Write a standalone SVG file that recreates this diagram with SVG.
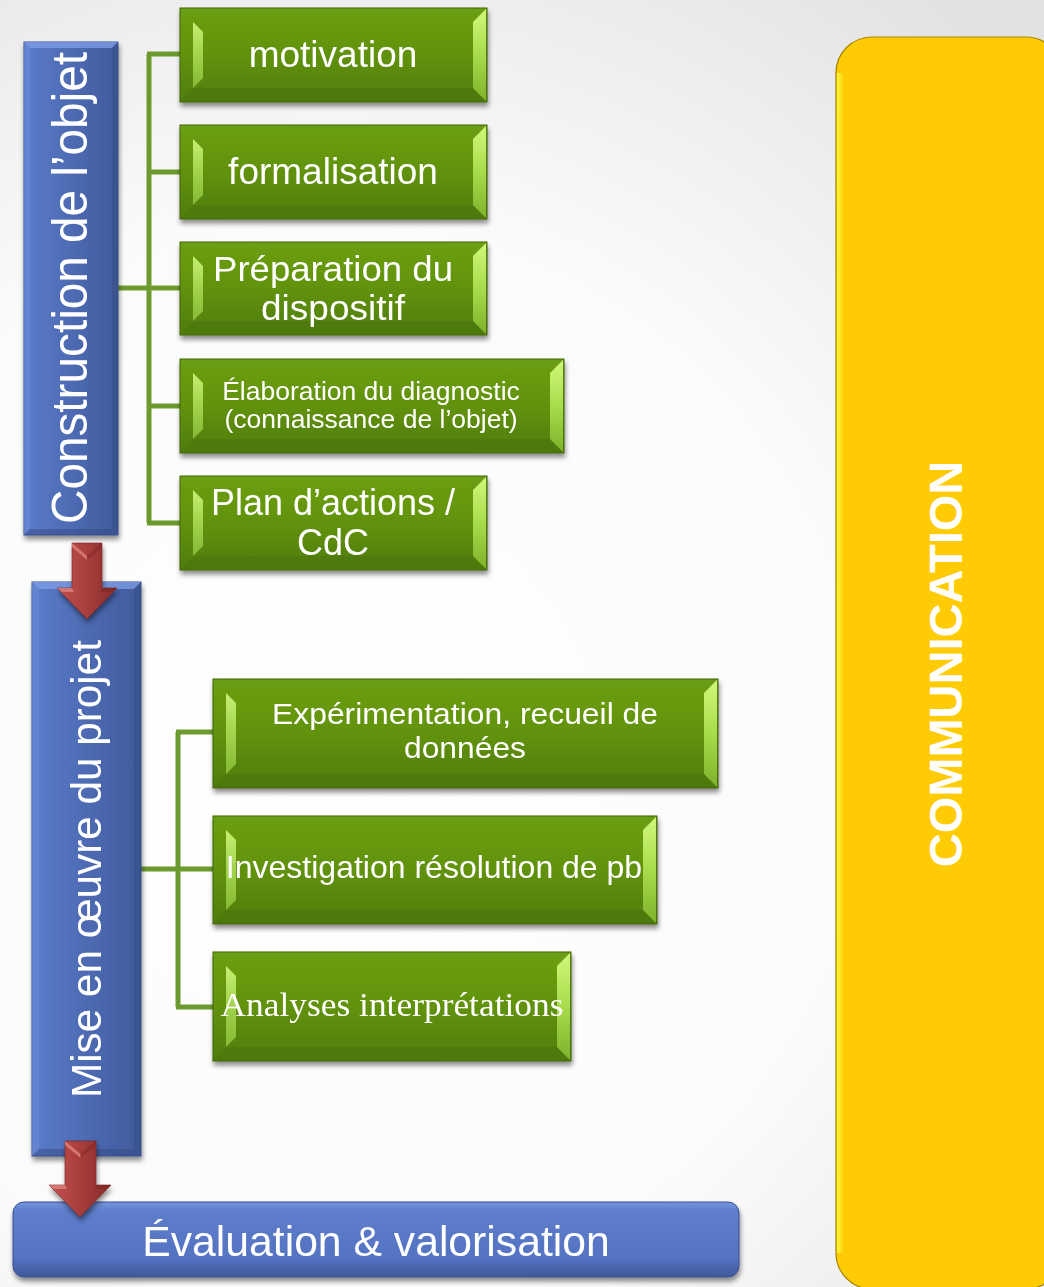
<svg xmlns="http://www.w3.org/2000/svg" width="1044" height="1287" viewBox="0 0 1044 1287">
  <defs>
    <radialGradient id="bg" cx="330" cy="760" r="980" gradientUnits="userSpaceOnUse">
      <stop offset="0" stop-color="#ffffff"/>
      <stop offset="0.55" stop-color="#fbfbfb"/>
      <stop offset="1" stop-color="#e2e2e2"/>
    </radialGradient>
    <linearGradient id="gMain" x1="0" y1="0" x2="0" y2="1">
      <stop offset="0" stop-color="#6c9e12"/>
      <stop offset="0.5" stop-color="#62920f"/>
      <stop offset="1" stop-color="#4f7c0c"/>
    </linearGradient>
    <linearGradient id="gRight" x1="0" y1="0" x2="0" y2="1">
      <stop offset="0" stop-color="#d2f77a"/>
      <stop offset="0.5" stop-color="#a8dc4c"/>
      <stop offset="1" stop-color="#7fb12a"/>
    </linearGradient>
    <linearGradient id="gLeft" x1="0" y1="0" x2="0" y2="1">
      <stop offset="0" stop-color="#c7ef72"/>
      <stop offset="0.5" stop-color="#a2d34c"/>
      <stop offset="1" stop-color="#86b833"/>
    </linearGradient>
    <linearGradient id="bMain" x1="0" y1="0" x2="1" y2="0">
      <stop offset="0" stop-color="#5a7cca"/>
      <stop offset="1" stop-color="#415a9c"/>
    </linearGradient>
    <linearGradient id="bBottom" x1="0" y1="0" x2="0" y2="1">
      <stop offset="0" stop-color="#7595df"/>
      <stop offset="0.12" stop-color="#5e7ecb"/>
      <stop offset="0.75" stop-color="#5473c2"/>
      <stop offset="1" stop-color="#3f5799"/>
    </linearGradient>
    <linearGradient id="rArrow" x1="0" y1="0" x2="1" y2="0">
      <stop offset="0" stop-color="#c2524f"/>
      <stop offset="0.5" stop-color="#a83e3c"/>
      <stop offset="1" stop-color="#862b29"/>
    </linearGradient>
    <linearGradient id="yLeft" x1="0" y1="0" x2="1" y2="0">
      <stop offset="0" stop-color="#ffff40"/>
      <stop offset="1" stop-color="#ffcb05"/>
    </linearGradient>
    <filter id="sh" x="-10%" y="-10%" width="120%" height="130%">
      <feGaussianBlur in="SourceAlpha" stdDeviation="2.5"/>
      <feOffset dx="1" dy="4" result="b"/>
      <feComponentTransfer><feFuncA type="linear" slope="0.45"/></feComponentTransfer>
      <feMerge><feMergeNode/><feMergeNode in="SourceGraphic"/></feMerge>
    </filter>
    <style>
      .gbox { fill: url(#gMain); stroke: #3f650a; stroke-width: 1; }
      .gright { fill: url(#gRight); }
      .gleft { fill: url(#gLeft); }
      .gbot { fill: #4a740b; opacity: 0.55; }
      .bbox { fill: url(#bMain); stroke: #3a5190; stroke-width: 1; }
      .btop { fill: #7c9ce4; opacity: 0.8; }
      .bleft { fill: #6b8bd6; opacity: 0.6; }
      .bright { fill: #34497f; opacity: 0.45; }
      .bbot { fill: #33487e; opacity: 0.45; }
      .t { font-family: "Liberation Sans", Arial, sans-serif; fill: #ffffff; text-anchor: middle; }
      .ts { font-family: "Liberation Serif", "Times New Roman", serif; fill: #ffffff; text-anchor: middle; }
      .conn { fill: none; stroke: #6c9a2e; stroke-width: 5; }
      .arrow { fill: url(#rArrow); stroke: #7a2422; stroke-width: 0.6; }
      .ahl { fill: #e08682; opacity: 0.75; }
      .adk { fill: #6e1f1d; opacity: 0.35; }
    </style>
  </defs>

  <rect x="0" y="0" width="1044" height="1287" fill="url(#bg)"/>

  <!-- COMMUNICATION -->
  <g id="communication">
    <rect x="836" y="37" width="226" height="1252" rx="36" ry="36" fill="#ffcb05" stroke="#a88500" stroke-width="1.2"/>
    <path d="M837,73 V1253 H844 V73 Z" fill="url(#yLeft)" opacity="0.9"/>
    <text class="t" transform="translate(945,664) rotate(-90)" y="17" font-size="47" font-weight="bold">COMMUNICATION</text>
  </g>

  <!-- Connectors -->
  <g id="connectors">
    <path class="conn" d="M118,288 H149 M149,54 V523 M147,54 H180 M149,172 H180 M149,288 H180 M149,406 H180 M147,523 H180"/>
    <path class="conn" d="M141,869 H178 M178,732 V1007 M176,732 H213 M178,869 H213 M176,1007 H213"/>
  </g>

  <!-- Blue box 1 -->
  <g id="construction" filter="url(#sh)">
    <rect class="bbox" x="24" y="42" width="94" height="493"/>
    <polygon class="btop" points="24,42 118,42 112,48 30,48"/>
    <polygon class="bleft" points="24,42 30,48 30,529 24,535"/>
    <polygon class="bright" points="118,42 118,535 112,529 112,48"/>
    <polygon class="bbot" points="24,535 30,529 112,529 118,535"/>
    <text class="t" transform="translate(87,288) rotate(-90)" font-size="50" textLength="472" lengthAdjust="spacingAndGlyphs">Construction de l’objet</text>
  </g>

  <!-- Green boxes, tree 1 -->
  <g id="motivation" filter="url(#sh)">
    <rect class="gbox" x="180" y="8" width="307" height="94"/>
    <polygon class="gbot" points="180,102 193,88 473,88 487,102"/>
    <polygon class="gleft" points="193,22 203,32 203,78 193,88"/>
    <polygon class="gright" points="486,9 486,101 473,88 473,22"/>
    <text class="t" x="333" y="67" font-size="37">motivation</text>
  </g>
  <g id="formalisation" filter="url(#sh)">
    <rect class="gbox" x="180" y="125" width="307" height="94"/>
    <polygon class="gbot" points="180,219 193,205 473,205 487,219"/>
    <polygon class="gleft" points="193,139 203,149 203,195 193,205"/>
    <polygon class="gright" points="486,126 486,218 473,205 473,139"/>
    <text class="t" x="333" y="184" font-size="37">formalisation</text>
  </g>
  <g id="preparation" filter="url(#sh)">
    <rect class="gbox" x="180" y="242" width="307" height="93"/>
    <polygon class="gbot" points="180,335 193,321 473,321 487,335"/>
    <polygon class="gleft" points="193,256 203,266 203,311 193,321"/>
    <polygon class="gright" points="486,243 486,334 473,321 473,256"/>
    <text class="t" x="333" y="281" font-size="34.5" textLength="240" lengthAdjust="spacingAndGlyphs">Préparation du</text>
    <text class="t" x="333" y="320" font-size="34.5" textLength="144" lengthAdjust="spacingAndGlyphs">dispositif</text>
  </g>
  <g id="elaboration" filter="url(#sh)">
    <rect class="gbox" x="180" y="359" width="384" height="94"/>
    <polygon class="gbot" points="180,453 193,439 550,439 564,453"/>
    <polygon class="gleft" points="193,373 203,383 203,429 193,439"/>
    <polygon class="gright" points="563,360 563,452 550,439 550,373"/>
    <text class="t" x="371" y="400" font-size="26.5">Élaboration du diagnostic</text>
    <text class="t" x="371" y="428" font-size="26.5">(connaissance de l’objet)</text>
  </g>
  <g id="plan" filter="url(#sh)">
    <rect class="gbox" x="180" y="476" width="307" height="94"/>
    <polygon class="gbot" points="180,570 193,556 473,556 487,570"/>
    <polygon class="gleft" points="193,490 203,500 203,546 193,556"/>
    <polygon class="gright" points="486,477 486,569 473,556 473,490"/>
    <text class="t" x="333" y="515" font-size="36">Plan d’actions /</text>
    <text class="t" x="333" y="555" font-size="36">CdC</text>
  </g>

  <!-- Blue box 2 -->
  <g id="mise-en-oeuvre" filter="url(#sh)">
    <rect class="bbox" x="32" y="582" width="109" height="574"/>
    <polygon class="btop" points="32,582 141,582 134,589 39,589"/>
    <polygon class="bleft" points="32,582 39,589 39,1149 32,1156"/>
    <polygon class="bright" points="141,582 141,1156 134,1149 134,589"/>
    <polygon class="bbot" points="32,1156 39,1149 134,1149 141,1156"/>
    <text class="t" transform="translate(101,869) rotate(-90)" font-size="43" textLength="458" lengthAdjust="spacingAndGlyphs">Mise en œuvre du projet</text>
  </g>

  <!-- Green boxes, tree 2 -->
  <g id="experimentation" filter="url(#sh)">
    <rect class="gbox" x="213" y="679" width="505" height="109"/>
    <polygon class="gbot" points="213,788 226,774 704,774 718,788"/>
    <polygon class="gleft" points="226,693 236,703 236,764 226,774"/>
    <polygon class="gright" points="717,680 717,787 704,774 704,693"/>
    <text class="t" x="465" y="724" font-size="30" textLength="386" lengthAdjust="spacingAndGlyphs">Expérimentation, recueil de</text>
    <text class="t" x="465" y="758" font-size="30" textLength="122" lengthAdjust="spacingAndGlyphs">données</text>
  </g>
  <g id="investigation" filter="url(#sh)">
    <rect class="gbox" x="213" y="816" width="444" height="108"/>
    <polygon class="gbot" points="213,924 226,910 643,910 657,924"/>
    <polygon class="gleft" points="226,830 236,840 236,900 226,910"/>
    <polygon class="gright" points="656,817 656,923 643,910 643,830"/>
    <text class="t" x="434" y="878" font-size="32">Investigation résolution de pb</text>
  </g>
  <g id="analyses" filter="url(#sh)">
    <rect class="gbox" x="213" y="952" width="358" height="109"/>
    <polygon class="gbot" points="213,1061 226,1047 557,1047 571,1061"/>
    <polygon class="gleft" points="226,966 236,976 236,1037 226,1047"/>
    <polygon class="gright" points="570,953 570,1060 557,1047 557,966"/>
    <text class="ts" x="392" y="1016" font-size="33" textLength="343" lengthAdjust="spacingAndGlyphs">Analyses interprétations</text>
  </g>

  <!-- Bottom blue box -->
  <g id="evaluation" filter="url(#sh)">
    <rect x="13" y="1202" width="726" height="75" rx="11" ry="11" fill="url(#bBottom)" stroke="#3a5190" stroke-width="1"/>
    <text class="t" x="376" y="1256" font-size="42.7">Évaluation &amp; valorisation</text>
  </g>

  <!-- Arrows -->
  <g id="arrows" filter="url(#sh)">
    <polygon class="arrow" points="72,543 102,543 102,588 117,588 87,619 57,588 72,588"/>
    <polygon class="ahl" points="72,543 87,556 87,560 72,547"/>
    <polygon class="adk" points="102,543 87,556 87,560 102,547"/>
    <polygon class="ahl" points="57,588 72,588 74,592 62,592"/>
    <polygon class="adk" points="117,588 102,588 100,592 112,592"/>
    <polygon class="arrow" points="65,1141 96,1141 96,1185 111,1185 80,1217 49,1185 65,1185"/>
    <polygon class="ahl" points="65,1141 80.5,1154 80.5,1158 65,1145"/>
    <polygon class="adk" points="96,1141 80.5,1154 80.5,1158 96,1145"/>
    <polygon class="ahl" points="49,1185 65,1185 67,1189 54,1189"/>
    <polygon class="adk" points="111,1185 96,1185 94,1189 106,1189"/>
  </g>
</svg>
